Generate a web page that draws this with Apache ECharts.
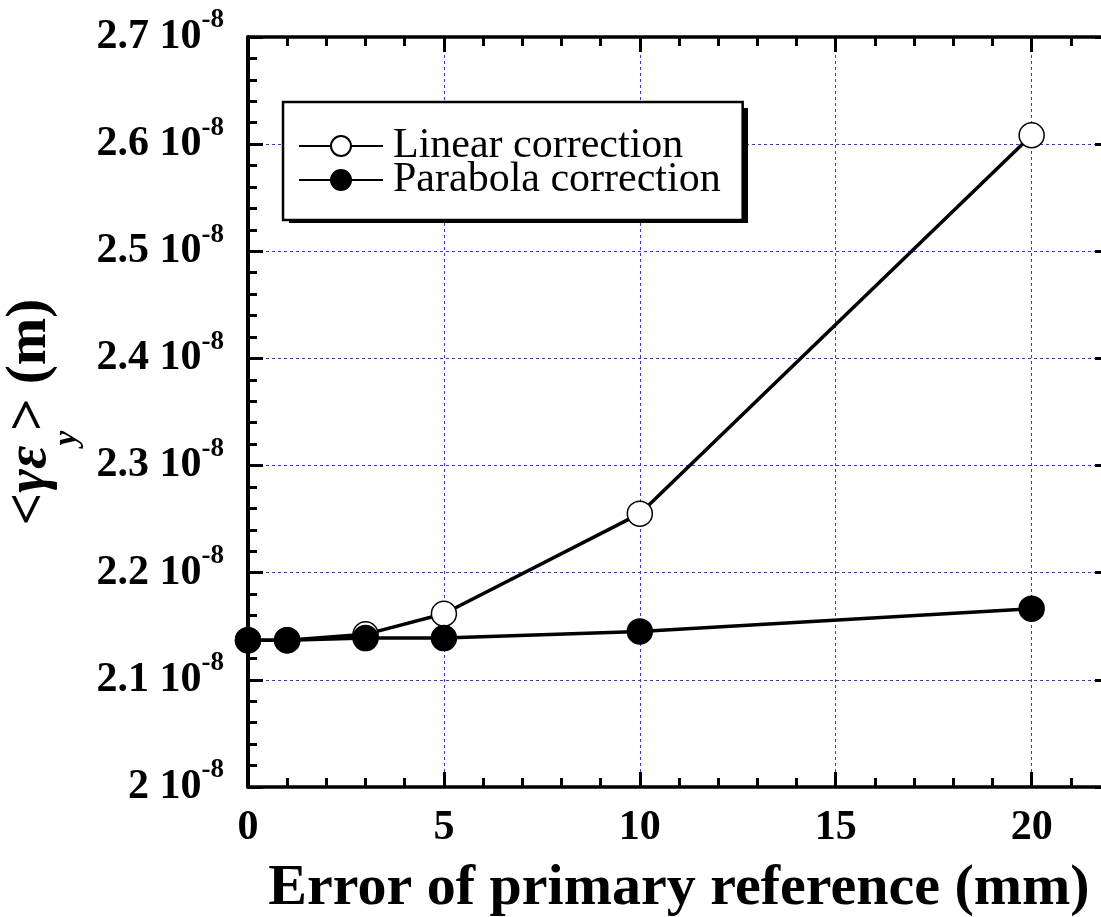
<!DOCTYPE html>
<html>
<head>
<meta charset="utf-8">
<script src="https://cdn.jsdelivr.net/npm/echarts@6/dist/echarts.min.js"></script>
<style>
html,body{margin:0;padding:0;background:#fff;}
#c{width:1101px;height:917px;}
</style>
</head>
<body>
<div id="c"></div>
<script>
// Values in units of 1e-8 m
const xValues = [0, 1, 3, 5, 10, 20];
const linearValues = [2.137, 2.137, 2.1425, 2.1617, 2.2551, 2.6083];
const parabolaValues = [2.137, 2.137, 2.139, 2.139, 2.1452, 2.1664];
const seriesNames = ['Linear correction', 'Parabola correction'];
const xTitle = 'Error of primary reference (mm)';

const FONT = '"Liberation Serif", "Times New Roman", serif';
const gridColor = '#3333ff';

const chart = echarts.init(document.getElementById('c'), null, {renderer: 'canvas'});

function pairs(ys) { return xValues.map((x, i) => [x, ys[i]]); }

function ticks(lineWidth) {
  return {
    axisLine: {show: true, onZero: false, lineStyle: {color: '#000', width: lineWidth}},
    axisTick: {show: true, inside: true, length: 15, lineStyle: {color: '#000', width: 3}},
    minorTick: {show: true, splitNumber: 5, length: 9, lineStyle: {color: '#000', width: 3}}
  };
}

const option = {
  animation: false,
  backgroundColor: '#fff',
  grid: {left: 248, top: 37, width: 862, height: 750, containLabel: false, outerBoundsMode: 'none'},
  legend: {
    orient: 'vertical',
    left: 283, top: 102,
    padding: [23, 22, 19, 15],
    itemGap: -8,
    itemWidth: 84, itemHeight: 25,
    backgroundColor: '#fff',
    borderColor: '#000', borderWidth: 2.5,
    textStyle: {fontFamily: FONT, fontSize: 42, color: '#000', lineHeight: 35, padding: [0, 0, 0, 5]},
    data: seriesNames,
    z: 6
  },
  graphic: [{
    // legend drop shadow
    type: 'rect', z: 5, silent: true,
    shape: {x: 289, y: 108, width: 459, height: 115},
    style: {fill: '#000'}
  }],
  xAxis: [{
    type: 'value', min: 0, max: 22, interval: 5, position: 'bottom',
    ...ticks(3.5),
    axisLabel: {show: true, margin: 20, fontFamily: FONT, fontWeight: 'bold', fontSize: 42, color: '#000',
      formatter: v => (v % 5 === 0 && v <= 20) ? String(v) : ''},
    splitLine: {show: true, lineStyle: {color: gridColor, width: 1, type: [3, 3]}},
    name: xTitle, nameLocation: 'middle', nameGap: 73,
    nameTextStyle: {fontFamily: FONT, fontWeight: 'bold', fontSize: 58, color: '#000'}
  }, {
    type: 'value', min: 0, max: 22, interval: 5, position: 'top',
    ...ticks(3.5),
    axisLabel: {show: false}, splitLine: {show: false}
  }],
  yAxis: [{
    type: 'value', min: 2.0, max: 2.7, interval: 0.1, position: 'left',
    ...ticks(4),
    axisLabel: {
      show: true, margin: 24,
      formatter: v => '{a|' + (Math.abs(v - 2) < 1e-9 ? '2' : v.toFixed(1)) + ' 10}{b|-8}',
      rich: {
        a: {fontFamily: FONT, fontWeight: 'bold', fontSize: 42, color: '#000', lineHeight: 60, verticalAlign: 'middle'},
        b: {fontFamily: FONT, fontWeight: 'bold', fontSize: 27, color: '#000', lineHeight: 27, verticalAlign: 'top'}
      }
    },
    splitLine: {show: true, lineStyle: {color: gridColor, width: 1, type: [3, 3]}},
    name: '{n|<}{g|γε}{s|y}{n|> (m)}',
    nameLocation: 'middle', nameRotate: 90, nameGap: 164,
    nameTextStyle: {
      rich: {
        n: {fontFamily: FONT, fontWeight: 'bold', fontSize: 57, color: '#000', lineHeight: 64, verticalAlign: 'top'},
        g: {fontFamily: FONT, fontWeight: 'bold', fontStyle: 'italic', fontSize: 57, color: '#000', lineHeight: 64, verticalAlign: 'top'},
        s: {fontFamily: FONT, fontWeight: 'bold', fontStyle: 'italic', fontSize: 33, color: '#000', lineHeight: 82, verticalAlign: 'bottom'}
      }
    }
  }, {
    type: 'value', min: 2.0, max: 2.7, interval: 0.1, position: 'right',
    ...ticks(4),
    axisLabel: {show: false}, splitLine: {show: false}
  }],
  series: [{
    name: seriesNames[0], type: 'line', xAxisIndex: 0, yAxisIndex: 0,
    data: pairs(linearValues),
    symbol: 'circle', symbolSize: 25, showAllSymbol: true,
    lineStyle: {color: '#000', width: 3.5},
    itemStyle: {color: '#fff', borderColor: '#000', borderWidth: 1.5},
    z: 3
  }, {
    name: seriesNames[1], type: 'line', xAxisIndex: 0, yAxisIndex: 0,
    data: pairs(parabolaValues),
    symbol: 'circle', symbolSize: 25, showAllSymbol: true,
    lineStyle: {color: '#000', width: 3.5},
    itemStyle: {color: '#000', borderColor: '#000', borderWidth: 1.5},
    z: 4
  }]
};
chart.setOption(option);
</script>
</body>
</html>
